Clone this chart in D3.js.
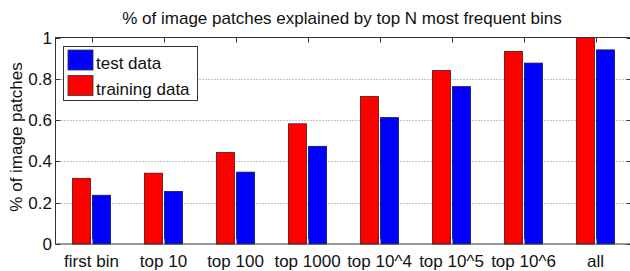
<!DOCTYPE html>
<html>
<head>
<meta charset="utf-8">
<script src="https://cdn.jsdelivr.net/npm/d3@7"></script>
<style>
body { margin: 0; padding: 0; overflow: hidden; background: #fff; }
text { font-family: "Liberation Sans", Arial, Helvetica, sans-serif; }
</style>
</head>
<body>
<script>
const categories = ["first bin", "top 10", "top 100", "top 1000", "top 10^4", "top 10^5", "top 10^6", "all"];
const trainingData = [0.318, 0.343, 0.443, 0.582, 0.714, 0.840, 0.932, 1.0];
const testData = [0.236, 0.254, 0.348, 0.473, 0.612, 0.762, 0.876, 0.940];
const yTicks = [0, 0.2, 0.4, 0.6, 0.8, 1];
const yTickLabels = ["0", "0.2", "0.4", "0.6", "0.8", "1"];

const W = 630, H = 271;
const pLeft = 55.5, pRight = 631.5, pTop = 37.5, pBottom = 244;

const svg = d3.select("body").append("svg").attr("width", W).attr("height", H);

const x = d3.scaleLinear().domain([0.5, 8.5]).range([pLeft, pRight]);
const y = d3.scaleLinear().domain([0, 1]).range([pBottom, pTop]);

// grid
svg.append("g").selectAll("line").data(yTicks.filter(d => d > 0 && d < 1)).enter()
  .append("line")
  .attr("x1", pLeft).attr("x2", pRight)
  .attr("y1", d => Math.round(y(d)) + 0.5).attr("y2", d => Math.round(y(d)) + 0.5)
  .attr("stroke", "#888").attr("stroke-width", 1).attr("stroke-dasharray", "1,2");

// bars
const off = 10, bw = 18;
const bars = svg.append("g");
bars.selectAll("rect.train").data(trainingData).enter().append("rect")
  .attr("class", "train")
  .attr("x", (d, i) => x(i + 1) - off - bw / 2)
  .attr("width", bw)
  .attr("y", d => y(d))
  .attr("height", d => pBottom - y(d))
  .attr("fill", "#ff0000").attr("stroke", "#5a1010").attr("stroke-width", 0.8);
bars.selectAll("rect.test").data(testData).enter().append("rect")
  .attr("class", "test")
  .attr("x", (d, i) => x(i + 1) + off - bw / 2)
  .attr("width", bw)
  .attr("y", d => y(d))
  .attr("height", d => pBottom - y(d))
  .attr("fill", "#0000ff").attr("stroke", "#10105a").attr("stroke-width", 0.8);

// axes box
svg.append("rect").attr("x", pLeft).attr("y", pTop).attr("width", pRight - pLeft).attr("height", pBottom - pTop)
  .attr("fill", "none").attr("stroke", "#333").attr("stroke-width", 1);

// x ticks (top and bottom, inward)
const xt = svg.append("g");
d3.range(1, 9).forEach(i => {
  const px = Math.round(x(i)) + 0.5;
  xt.append("line").attr("x1", px).attr("x2", px).attr("y1", pTop).attr("y2", pTop + 5).attr("stroke", "#333");
  xt.append("line").attr("x1", px).attr("x2", px).attr("y1", pBottom).attr("y2", pBottom - 5).attr("stroke", "#999");
});

// y ticks
yTicks.forEach(v => {
  const py = Math.round(y(v)) + 0.5;
  xt.append("line").attr("x1", pLeft).attr("x2", pLeft + 5).attr("y1", py).attr("y2", py).attr("stroke", "#333");
  xt.append("line").attr("x1", pRight - 5).attr("x2", pRight).attr("y1", py).attr("y2", py).attr("stroke", "#333");
});

// y tick labels
svg.append("g").selectAll("text").data(yTicks).enter().append("text")
  .attr("x", 52).attr("y", d => y(d) + 6)
  .attr("text-anchor", "end").attr("font-size", 17).attr("fill", "#111")
  .text((d, i) => yTickLabels[i]);

// x labels
svg.append("g").selectAll("text").data(categories).enter().append("text")
  .attr("x", (d, i) => x(i + 1)).attr("y", 267)
  .attr("text-anchor", "middle").attr("font-size", 17).attr("fill", "#111")
  .text(d => d);

// title
svg.append("text").attr("x", 342).attr("y", 24).attr("text-anchor", "middle")
  .attr("font-size", 17).attr("fill", "#111")
  .text("% of image patches explained by top N most frequent bins");

// y label
svg.append("text").attr("transform", "translate(22,137) rotate(-90)")
  .attr("text-anchor", "middle").attr("font-size", 17).attr("fill", "#111")
  .text("% of image patches");

// legend
const lg = svg.append("g");
lg.append("rect").attr("x", 63.5).attr("y", 46.5).attr("width", 134).attr("height", 54)
  .attr("fill", "#fff").attr("stroke", "#333");
const legendItems = [["test data", "#0000ff"], ["training data", "#ff0000"]];
legendItems.forEach((d, i) => {
  lg.append("rect").attr("x", 68).attr("y", 50 + i * 25.5).attr("width", 25).attr("height", 20)
    .attr("fill", d[1]).attr("stroke", "#333").attr("stroke-width", 0.8);
  lg.append("text").attr("x", 96).attr("y", 69 + i * 26).attr("font-size", 17).attr("fill", "#111").text(d[0]);
});
</script>
</body>
</html>
